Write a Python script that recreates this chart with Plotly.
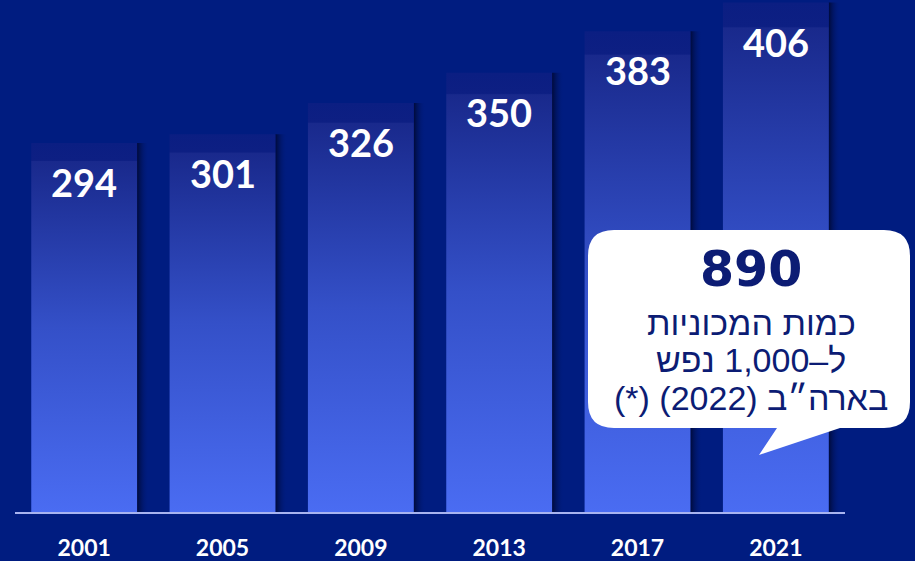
import plotly.graph_objects as go

years = ["2001", "2005", "2009", "2013", "2017", "2021"]
values = [294, 301, 326, 350, 383, 406]

callout_number = "890"
callout_lines = ["כמות המכוניות", "ל–1,000 נפש", "בארה״ב (2022) (*)"]

BG = "#001c80"
NAVY = "#0c1c74"
W = 0.765        # bar width (category units)
SH = 0.085       # shadow width (category units)

# figure geometry (pixels) for paper conversions
FW, FH = 915, 561
ML, MR, MT, MB = 15, 70, 0, 49
PW, PH = FW - ML - MR, FH - MT - MB


def px(x, y):
    """pixel -> paper coords"""
    return (x - ML) / PW, (FH - MB - y) / PH


fig = go.Figure()

for i, v in enumerate(values):
    # shadow to the right of each bar
    x0, x1 = i + W / 2, i + W / 2 + SH
    fig.add_trace(go.Scatter(
        x=[x0, x1, x1, x0, x0], y=[0, 0, v, v, 0],
        mode="lines", line=dict(width=0), fill="toself",
        fillgradient=dict(type="horizontal", start=x0, stop=x1,
                          colorscale=[[0, "rgba(0,8,50,0.9)"], [1, "rgba(0,28,128,0)"]]),
        hoverinfo="skip", showlegend=False))
    # gradient bar
    b0, b1 = i - W / 2, i + W / 2
    fig.add_trace(go.Scatter(
        x=[b0, b1, b1, b0, b0], y=[0, 0, v, v, 0],
        mode="lines", line=dict(width=0), fill="toself",
        fillgradient=dict(type="vertical", start=0, stop=v,
                          colorscale=[[0, "#4a6cf2"], [0.5, "#3450c8"], [0.95, "#19298c"],
                                      [0.953, "#0d1f83"], [1, "#0b1e82"]]),
        hovertemplate=f"{years[i]}: {v}<extra></extra>", showlegend=False))
    fig.add_annotation(x=i, y=v, yshift=-39, text=str(v), showarrow=False,
                       yanchor="middle", xanchor="center",
                       font=dict(family="Lato, Open Sans, sans-serif", size=38,
                                 color="white", weight="bold"))

# speech bubble
L, R, T, B, r = 588, 910, 230, 428, 26
tail = [(840, B), (759, 455), (777, B)]


def P(x, y):
    a, b = px(x, y)
    return f"{a:.5f},{b:.5f}"


path = (f"M {P(L + r, T)} L {P(R - r, T)} Q {P(R, T)} {P(R, T + r)} "
        f"L {P(R, B - r)} Q {P(R, B)} {P(R - r, B)} "
        f"L {P(*tail[0])} L {P(*tail[1])} L {P(*tail[2])} "
        f"L {P(L + r, B)} Q {P(L, B)} {P(L, B - r)} "
        f"L {P(L, T + r)} Q {P(L, T)} {P(L + r, T)} Z")
fig.add_shape(type="path", path=path, xref="paper", yref="paper",
              fillcolor="white", line=dict(width=0), layer="above")

cx = 751
ax, ay = px(cx, 269)
fig.add_annotation(x=ax, y=ay, xref="paper", yref="paper", text=callout_number,
                   showarrow=False, xanchor="center", yanchor="middle",
                   font=dict(family="DejaVu Sans", size=49, color=NAVY, weight="bold"))
for line, yy in zip(callout_lines, [323, 360, 398]):
    ax, ay = px(cx, yy)
    fig.add_annotation(x=ax, y=ay, xref="paper", yref="paper",
                       text="\u202b" + line + "\u202c",
                       showarrow=False, xanchor="center", yanchor="middle",
                       font=dict(family="Liberation Sans, Arial, sans-serif", size=34, color=NAVY))

fig.update_layout(
    width=FW, height=FH,
    margin=dict(l=ML, r=MR, t=MT, b=MB, autoexpand=False),
    paper_bgcolor=BG, plot_bgcolor=BG,
    showlegend=False,
    xaxis=dict(range=[-0.5, 5.5], tickvals=list(range(len(years))), ticktext=years,
               showgrid=False, zeroline=False, showline=True, linecolor="#a8b4f0",
               linewidth=2, ticks="", ticklabelstandoff=14, automargin=False,
               tickfont=dict(family="Lato, sans-serif", size=23, color="white", weight="bold"),
               fixedrange=True),
    yaxis=dict(range=[0, 408], showgrid=False, zeroline=False, showticklabels=False,
               showline=False, fixedrange=True, automargin=False),
)

fig.write_html("out.html", config={"displayModeBar": False},
               post_script="document.body.style.margin='0';document.body.style.overflow='hidden';")
